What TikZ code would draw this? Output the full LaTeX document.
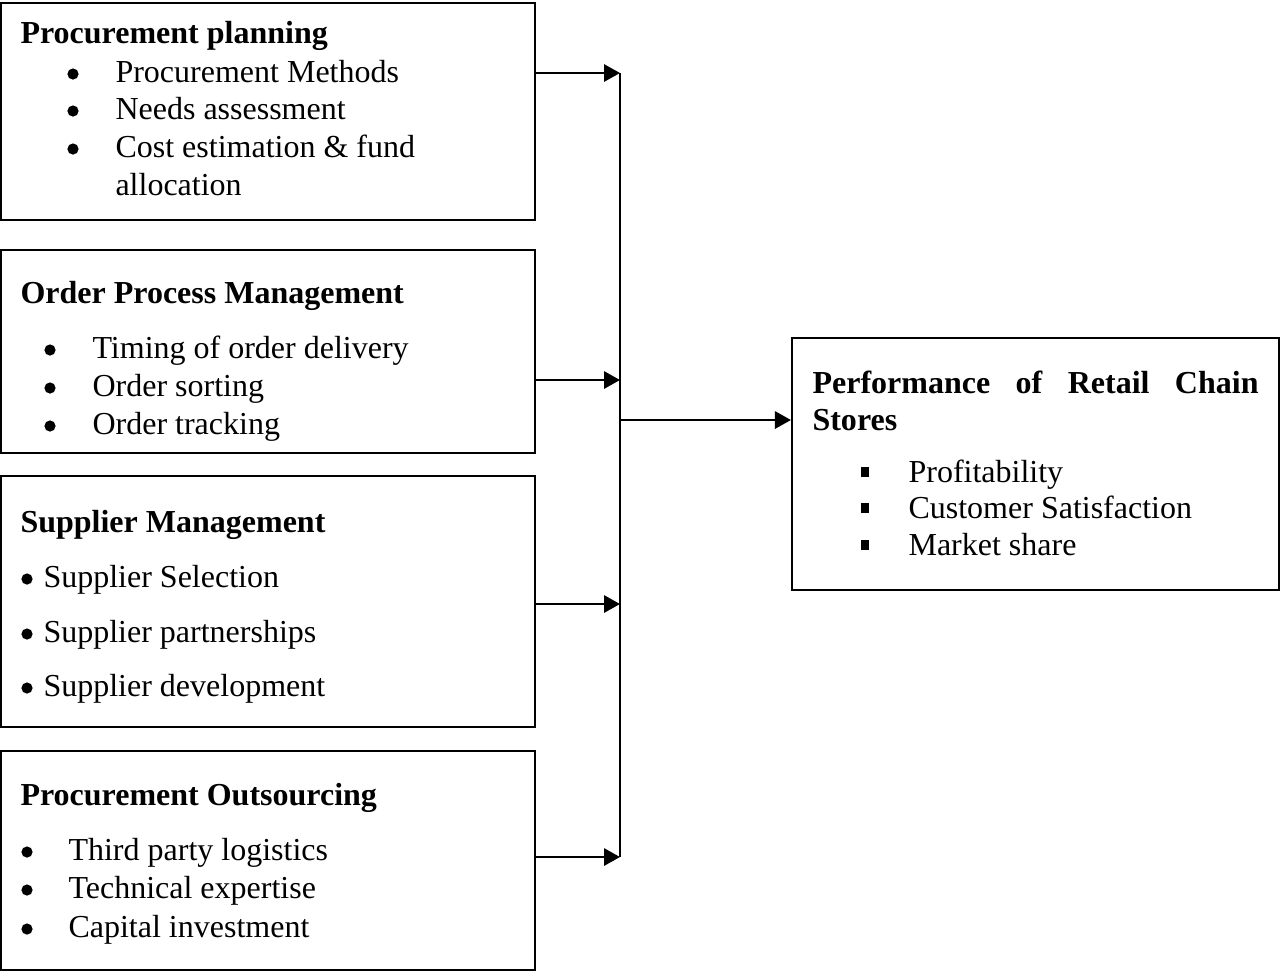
\documentclass[tikz,border=0pt]{standalone}
\usepackage{fontspec}
\setmainfont{Liberation Serif}
\usetikzlibrary{arrows.meta}
\begin{document}
\begin{tikzpicture}[x=0.375pt,y=-0.375pt,
  font=\fontsize{12}{14}\selectfont,
  box/.style={draw, line width=0.8pt, rectangle, inner sep=0pt},
  txt/.style={inner sep=0pt, anchor=base west},
  ttl/.style={txt, font=\fontsize{12}{14}\selectfont\bfseries},
  dot/.style={circle, fill=black, draw=none, inner sep=0pt, minimum size=4.2pt},
  sq/.style={rectangle, fill=black, draw=none, inner sep=0pt, minimum width=3pt, minimum height=3.4pt},
  arr/.style={-{Triangle[length=6pt,width=6.5pt]}, line width=0.75pt},
  link/.style={line width=0.75pt}]
\useasboundingbox (0,0) rectangle (1282,977);
% boxes
\node[box, minimum width=200.25pt, minimum height=81.375pt] (b1) at (268,111.5) {};
\node[box, minimum width=200.25pt, minimum height=76.125pt] (b2) at (268,351.5) {};
\node[box, minimum width=200.25pt, minimum height=94.125pt] (b3) at (268,601.5) {};
\node[box, minimum width=200.25pt, minimum height=82.125pt] (b4) at (268,860.5) {};
\node[box, minimum width=182.625pt, minimum height=94.5pt] (out) at (1035.5,464) {};
% box 1
\node[ttl] (t1) at (20,43) {Procurement planning};
\node[dot] (d11) at (73,74) {};
\node[txt] (i11) at (115,82) {Procurement Methods};
\node[dot] (d12) at (73,111) {};
\node[txt] (i12) at (115,119) {Needs assessment};
\node[dot] (d13) at (73,149) {};
\node[txt] (i13) at (115,157) {Cost estimation \& fund};
\node[txt] (i14) at (115,195) {allocation};
% box 2
\node[ttl] (t2) at (20,303) {Order Process Management};
\node[dot] (d21) at (50,350) {};
\node[txt] (i21) at (92,358) {Timing of order delivery};
\node[dot] (d22) at (50,388) {};
\node[txt] (i22) at (92,396) {Order sorting};
\node[dot] (d23) at (50,426) {};
\node[txt] (i23) at (92,434) {Order tracking};
% box 3
\node[ttl] (t3) at (20,532) {Supplier Management};
\node[dot] (d31) at (27,579) {};
\node[txt] (i31) at (43,587) {Supplier Selection};
\node[dot] (d32) at (27,634) {};
\node[txt] (i32) at (43,642) {Supplier partnerships};
\node[dot] (d33) at (27,688) {};
\node[txt] (i33) at (43,696) {Supplier development};
% box 4
\node[ttl] (t4) at (20,805) {Procurement Outsourcing};
\node[dot] (d41) at (27,852) {};
\node[txt] (i41) at (68,860) {Third party logistics};
\node[dot] (d42) at (27,890) {};
\node[txt] (i42) at (68,898) {Technical expertise};
\node[dot] (d43) at (27,929) {};
\node[txt] (i43) at (68,937) {Capital investment};
% output box
\node[ttl] (t5) at (812,393) {\makebox[167.25pt][s]{Performance of Retail Chain}};
\node[ttl] (t6) at (812,430) {Stores};
\node[sq] (d51) at (865,472) {};
\node[txt] (i51) at (908,482) {Profitability};
\node[sq] (d52) at (865,508) {};
\node[txt] (i52) at (908,518) {Customer Satisfaction};
\node[sq] (d53) at (865,545) {};
\node[txt] (i53) at (908,555) {Market share};
% connectors
\coordinate (j1) at (620,73);
\coordinate (j2) at (620,380);
\coordinate (j3) at (620,604);
\coordinate (j4) at (620,857);
\coordinate (jm) at (620,420);
\draw[arr] (b1.east |- j1) -- (j1);
\draw[arr] (b2.east |- j2) -- (j2);
\draw[arr] (b3.east |- j3) -- (j3);
\draw[arr] (b4.east |- j4) -- (j4);
\draw[link] (j1) -- (j4);
\draw[arr] (jm) -- (out.west |- jm);
\end{tikzpicture}
\end{document}
